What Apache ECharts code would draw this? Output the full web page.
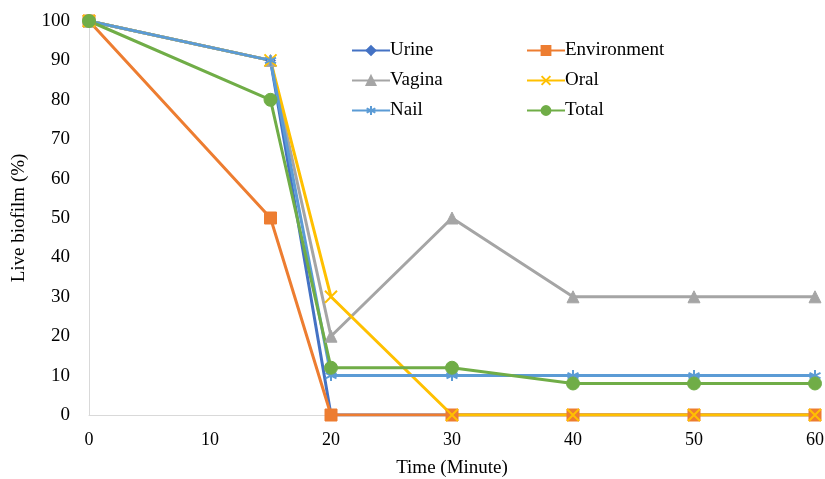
<!DOCTYPE html>
<html><head><meta charset="utf-8">
<script src="https://cdn.jsdelivr.net/npm/echarts@6/dist/echarts.min.js"></script>
<style>html,body{margin:0;padding:0;background:#fff}#c{width:825px;height:479px}</style>
</head><body><div id="c"></div>
<script>
const times = [0, 15, 20, 30, 40, 50, 60];
const urine = [100, 90, 0, 0, 0, 0, 0];
const environment = [100, 50, 0, 0, 0, 0, 0];
const vagina = [100, 90, 20, 50, 30, 30, 30];
const oral = [100, 90, 30, 0, 0, 0, 0];
const nail = [100, 90, 10, 10, 10, 10, 10];
const total = [100, 80, 12, 12, 8, 8, 8];
const seriesNames = ['Urine', 'Environment', 'Vagina', 'Oral', 'Nail', 'Total'];

const xPath = 'path://M0,0 L10,10 M10,0 L0,10';
const starPath = 'path://M5,0 L5,10 M0,2.5 L10,7.5 M10,2.5 L0,7.5';
const font = 'Liberation Serif';

function mk(name, data, color, symbol, size, extra) {
  return Object.assign({
    name: name, type: 'line',
    data: times.map((t, i) => [t, data[i]]),
    symbol: symbol, symbolSize: size,
    lineStyle: { color: color, width: 3 },
    itemStyle: { color: color, borderColor: color, borderWidth: 1 },
    emphasis: { disabled: true }
  }, extra || {});
}

const chart = echarts.init(document.getElementById('c'));
chart.setOption({
  animation: false,
  grid: { left: 89, right: 10, top: 21, bottom: 64, outerBoundsMode: 'none', containLabel: false },
  xAxis: {
    type: 'value', min: 0, max: 60, interval: 10,
    name: 'Time (Minute)', nameLocation: 'middle', nameGap: 44,
    nameTextStyle: { fontFamily: font, fontSize: 19, color: '#000' },
    axisLine: { show: true, lineStyle: { color: '#d9d9d9', width: 1 } },
    axisTick: { show: false },
    splitLine: { show: false },
    axisLabel: { fontFamily: font, fontSize: 18, color: '#000', margin: 16 }
  },
  yAxis: {
    type: 'value', min: 0, max: 100, interval: 10,
    name: 'Live biofilm (%)', nameLocation: 'middle', nameGap: 60,
    nameTextStyle: { fontFamily: font, fontSize: 19, color: '#000' },
    axisLine: { show: true, lineStyle: { color: '#d9d9d9', width: 1 } },
    axisTick: { show: false },
    splitLine: { show: false },
    axisLabel: { fontFamily: font, fontSize: 19, color: '#000', margin: 19 }
  },
  legend: [
    { data: ['Urine', 'Vagina', 'Nail'], orient: 'vertical', left: 346, top: 36, itemGap: 11,
      itemWidth: 38, itemHeight: 11, textStyle: { fontFamily: font, fontSize: 19, color: '#000', padding: [0,0,0,-5] } },
    { data: ['Environment', 'Oral', 'Total'], orient: 'vertical', left: 521, top: 36, itemGap: 11,
      itemWidth: 38, itemHeight: 11, textStyle: { fontFamily: font, fontSize: 19, color: '#000', padding: [0,0,0,-5] } }
  ],
  series: [
    mk('Urine', urine, '#4472C4', 'diamond', 10),
    mk('Environment', environment, '#ED7D31', 'rect', 12),
    mk('Vagina', vagina, '#A5A5A5', 'triangle', 12),
    mk('Oral', oral, '#FFC000', xPath, 12, { itemStyle: { color: 'none', borderColor: '#FFC000', borderWidth: 2 } }),
    mk('Nail', nail, '#5B9BD5', starPath, 11, { itemStyle: { color: 'none', borderColor: '#5B9BD5', borderWidth: 2 } }),
    mk('Total', total, '#70AD47', 'circle', 13)
  ]
});
</script></body></html>
